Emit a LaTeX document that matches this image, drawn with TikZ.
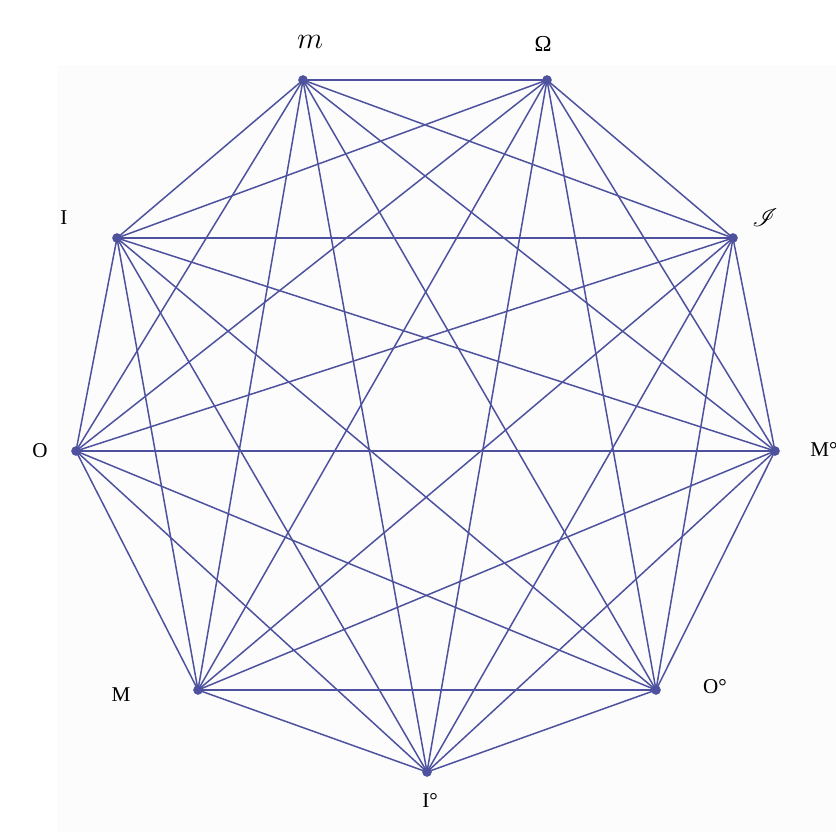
\documentclass[tikz,border=0pt]{standalone}
\usepackage{fontspec}
\usepackage{mathrsfs}
\setmainfont{Liberation Serif}
\definecolor{edgeblue}{HTML}{4E529E}
\definecolor{panel}{HTML}{FCFCFD}
\begin{document}
\begin{tikzpicture}[x=0.02cm,y=-0.02cm,
  edge/.style={draw=edgeblue,line width=0.85pt},
  vdot/.style={circle,fill=edgeblue,inner sep=0pt,minimum size=5.5pt},
  lbl/.style={font=\fontsize{12}{14}\selectfont,text=black,inner sep=0pt}]
\useasboundingbox (0,0) rectangle (836,832);
\fill[panel] (57,65) rectangle (836,832);
\coordinate (a1) at (303,80);
\coordinate (a2) at (547,80);
\coordinate (a3) at (733,238);
\coordinate (a4) at (775,451);
\coordinate (a5) at (656,690);
\coordinate (a6) at (427,772);
\coordinate (a7) at (198,690);
\coordinate (a8) at (76,451);
\coordinate (a9) at (117,238);
\foreach \i in {1,...,8}{
  \pgfmathtruncatemacro{\nx}{\i+1}
  \foreach \j in {\nx,...,9}{
    \draw[edge] (a\i) -- (a\j);
  }
}
\foreach \i in {1,...,9}{
  \node[vdot] (d\i) at (a\i) {};
}
\node[lbl,font=\fontsize{17}{19}\selectfont] (lm) at (310,42) {$m$};
\node[lbl,font=\fontsize{13}{15}\selectfont] (lO1) at (543,44) {Ω};
\node[lbl] (lI) at (64,218) {I};
\node[lbl,font=\fontsize{14}{16}\selectfont] (lJ) at (765,218) {$\mathscr{I}$};
\node[lbl,anchor=west] (lMd) at (810,449) {M°};
\node[lbl] (lO) at (40,451) {O};
\node[lbl] (lM) at (121,695) {M};
\node[lbl] (lOd) at (715,687) {O°};
\node[lbl] (lId) at (430,800) {I°};
\end{tikzpicture}
\end{document}
